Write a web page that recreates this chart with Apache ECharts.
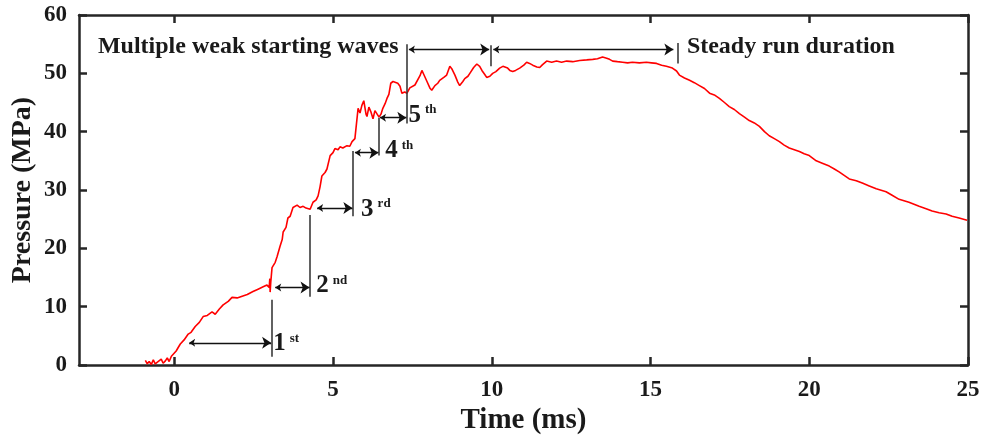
<!DOCTYPE html>
<html><head><meta charset="utf-8">
<script src="https://cdn.jsdelivr.net/npm/echarts@6/dist/echarts.min.js"></script>
<style>html,body{margin:0;padding:0;background:#fff}#c{width:984px;height:441px}</style>
</head><body><div id="c"></div>
<script>
const time = [-0.91,-0.85,-0.79,-0.72,-0.66,-0.60,-0.53,-0.47,-0.41,-0.35,-0.28,-0.22,-0.16,-0.09,-0.03,0.06,0.19,0.31,0.44,0.53,0.66,0.79,0.91,1.04,1.19,1.29,1.42,1.54,1.70,1.82,1.98,2.14,2.30,2.48,2.64,2.80,2.92,2.99,3.01,3.02,3.04,3.05,3.08,3.18,3.24,3.33,3.40,3.43,3.52,3.58,3.65,3.74,3.87,3.96,4.06,4.15,4.28,4.37,4.47,4.53,4.59,4.65,4.75,4.81,4.91,5.00,5.06,5.16,5.22,5.31,5.44,5.53,5.60,5.69,5.75,5.79,5.85,5.91,5.97,6.04,6.07,6.13,6.20,6.26,6.32,6.38,6.45,6.51,6.57,6.64,6.70,6.76,6.82,6.89,6.95,7.04,7.11,7.17,7.26,7.33,7.42,7.48,7.58,7.64,7.74,7.80,7.86,7.96,8.05,8.11,8.21,8.30,8.36,8.49,8.58,8.68,8.74,8.84,8.93,8.99,9.09,9.15,9.25,9.31,9.43,9.53,9.62,9.69,9.78,9.84,9.94,10.03,10.13,10.25,10.35,10.41,10.50,10.57,10.66,10.75,10.88,11.01,11.10,11.19,11.29,11.42,11.51,11.60,11.73,11.89,12.04,12.20,12.36,12.55,12.77,12.99,13.18,13.33,13.49,13.62,13.71,13.81,13.96,14.12,14.28,14.43,14.65,14.87,15.03,15.19,15.35,15.50,15.69,15.82,15.91,16.07,16.23,16.38,16.54,16.70,16.86,17.01,17.17,17.33,17.48,17.64,17.80,17.96,18.11,18.27,18.43,18.59,18.74,18.90,19.06,19.21,19.37,19.53,19.69,19.84,20.00,20.22,20.41,20.63,20.79,20.94,21.10,21.26,21.48,21.67,21.89,22.11,22.42,22.61,22.83,23.14,23.46,23.68,23.87,24.09,24.31,24.50,24.72,24.97];
const pressure = [0.8,0.2,0.6,0.1,0.9,0.2,0.5,0.3,1.0,0.3,0.7,1.2,0.6,1.5,1.8,2.4,3.6,4.3,5.3,5.6,6.6,7.3,8.3,8.5,9.1,8.7,9.6,10.3,10.9,11.6,11.5,11.8,12.1,12.6,13.0,13.4,13.7,13.3,14.8,12.5,14.2,13.9,16.7,17.6,18.6,20.3,21.5,22.8,23.6,25.2,25.5,27.0,27.4,27.0,27.2,26.9,26.7,27.9,28.3,29.0,30.5,32.4,33.0,33.6,35.9,36.4,37.1,36.9,37.4,37.2,37.6,37.5,38.3,38.8,39.0,44.0,43.2,44.5,45.3,43.0,42.6,44.2,43.3,42.2,43.6,43.1,42.5,43.0,44.0,44.8,45.7,46.4,48.3,48.6,48.8,48.3,47.8,46.6,46.8,46.6,47.5,47.8,48.0,48.3,49.6,50.5,49.8,48.6,47.5,47.1,47.9,48.3,48.8,49.3,49.7,51.2,50.8,49.7,48.5,47.9,48.6,49.1,49.5,50.0,51.0,51.6,51.2,50.5,49.8,49.3,49.5,50.0,50.3,50.9,51.2,51.4,50.9,50.5,50.3,50.5,50.9,51.4,51.9,51.7,51.4,51.1,51.0,51.5,52.1,51.9,52.1,51.9,52.1,52.0,52.2,52.3,52.4,52.5,52.8,52.6,52.4,52.1,52.0,51.9,51.8,51.9,51.8,51.9,51.8,51.7,51.4,51.2,50.9,50.4,49.7,49.2,48.8,48.4,47.9,47.4,46.6,46.3,45.7,45.0,44.3,43.8,43.1,42.5,41.9,41.5,40.9,40.0,39.3,38.8,38.3,37.7,37.2,36.9,36.6,36.2,35.9,35.0,34.6,34.1,33.6,33.1,32.5,31.9,31.6,31.2,30.7,30.2,29.7,29.1,28.4,27.9,27.2,26.8,26.4,26.1,25.9,25.5,25.2,24.8];

const xTicks = [0,5,10,15,20,25];
const yTicks = [0,10,20,30,40,50,60];

// vertical marker lines: [time, pFrom, pTo]
const markerLines = [[3.08,1.4,11.2],[4.28,11.7,25.7],[5.63,25.5,36.7],[6.45,35.9,42.4],[7.33,41.4,55.0],[9.97,51.2,54.8],[15.85,51.7,55.2]];
// double arrows: [tFrom, tTo, p]
const arrows = [[0.47,3.05,3.8],[3.18,4.26,13.3],[4.50,5.61,26.9],[5.69,6.43,36.4],[6.48,7.31,42.4],[7.39,9.92,54.1],[10.05,15.72,54.1]];
const ordinals = ['1','2','3','4','5'];
const ordinalSup = ['st','nd','rd','th','th'];
const ordinalPos = [[3.10,3.6],[4.46,13.6],[5.87,26.7],[6.63,36.7],[7.36,42.8]];
const notes = ['Multiple weak starting waves','Steady run duration'];
const notePos = [[-2.42,54.6],[16.13,54.6]];

const FONT = '"Liberation Serif","Times New Roman",serif';
const AX = '#262626';
const TXT = '#1a1a1a';

const chart = echarts.init(document.getElementById('c'), null, {renderer:'canvas'});

const xBase = {type:'value', min:-3, max:25, splitLine:{show:false},
  axisLine:{show:true, onZero:false, lineStyle:{color:AX, width:2.5}},
  axisTick:{show:true, inside:true, length:8, customValues:xTicks, lineStyle:{color:AX, width:2.5}}};
const yBase = {type:'value', min:0, max:60, interval:10, splitLine:{show:false},
  axisLine:{show:true, onZero:false, lineStyle:{color:AX, width:2.5}},
  axisTick:{show:true, inside:true, length:8, lineStyle:{color:AX, width:2.5}}};

const option = {
  animation:false,
  backgroundColor:'#fff',
  grid:{left:79, right:16, top:15, bottom:76, containLabel:false, outerBoundsMode:'none'},
  xAxis:[
    Object.assign({}, xBase, {position:'bottom',
      name:'Time (ms)', nameLocation:'middle', nameGap:41, nameMoveOverlap:false,
      nameTextStyle:{fontFamily:FONT, fontWeight:'bold', fontSize:29, color:TXT},
      axisLabel:{show:true, customValues:xTicks, margin:14, fontFamily:FONT, fontWeight:'bold', fontSize:23, color:TXT}}),
    Object.assign({}, xBase, {position:'top', axisLabel:{show:false}})
  ],
  yAxis:[
    Object.assign({}, yBase, {position:'left',
      name:'Pressure (MPa)', nameLocation:'middle', nameGap:42, nameMoveOverlap:false,
      nameTextStyle:{fontFamily:FONT, fontWeight:'bold', fontSize:28, color:TXT},
      axisLabel:{show:true, margin:12, fontFamily:FONT, fontWeight:'bold', fontSize:23, color:TXT,
        customValues:yTicks}}),
    Object.assign({}, yBase, {position:'right', axisLabel:{show:false}})
  ],
  series:[
    {type:'line', xAxisIndex:0, yAxisIndex:0, data:time.map((t,i)=>[t,pressure[i]]),
     showSymbol:false, symbol:'none', lineStyle:{color:'#ff0000', width:1.6}, z:5},
    {type:'lines', coordinateSystem:'cartesian2d', xAxisIndex:0, yAxisIndex:0, polyline:false,
     data:markerLines.map(m=>({coords:[[m[0],m[1]],[m[0],m[2]]]})),
     lineStyle:{color:'#3a3a3a', width:1.6, opacity:1}, symbol:['none','none'], z:6},
    {type:'lines', coordinateSystem:'cartesian2d', xAxisIndex:0, yAxisIndex:0, polyline:false,
     data:arrows.map(a=>({coords:[[a[0],a[2]],[a[1],a[2]]]})),
     lineStyle:{color:'#111', width:1.3, opacity:1}, symbol:['arrow','arrow'], symbolSize:[6,9], z:6},
    {type:'scatter', xAxisIndex:0, yAxisIndex:0, symbolSize:1, itemStyle:{color:'rgba(0,0,0,0)', opacity:1},
     data:ordinalPos.map((p,i)=>({value:p})),
     label:{show:true, position:'right', distance:0, opacity:1,
       formatter:(p)=>'{n|'+ordinals[p.dataIndex]+'}{s|'+ordinalSup[p.dataIndex]+'}',
       rich:{n:{fontFamily:FONT, fontWeight:'bold', fontSize:25, color:TXT, lineHeight:24},
             s:{fontFamily:FONT, fontWeight:'bold', fontSize:13, color:TXT, verticalAlign:'top', padding:[0,0,0,4]}}},
     z:7},
    {type:'scatter', xAxisIndex:0, yAxisIndex:0, symbolSize:1, itemStyle:{color:'rgba(0,0,0,0)', opacity:1},
     data:notePos.map((p,i)=>({value:p})),
     label:{show:true, position:'right', distance:0, opacity:1,
       formatter:(p)=>notes[p.dataIndex],
       fontFamily:FONT, fontWeight:'bold', fontSize:24, color:TXT},
     z:7}
  ]
};
chart.setOption(option);
</script></body></html>
